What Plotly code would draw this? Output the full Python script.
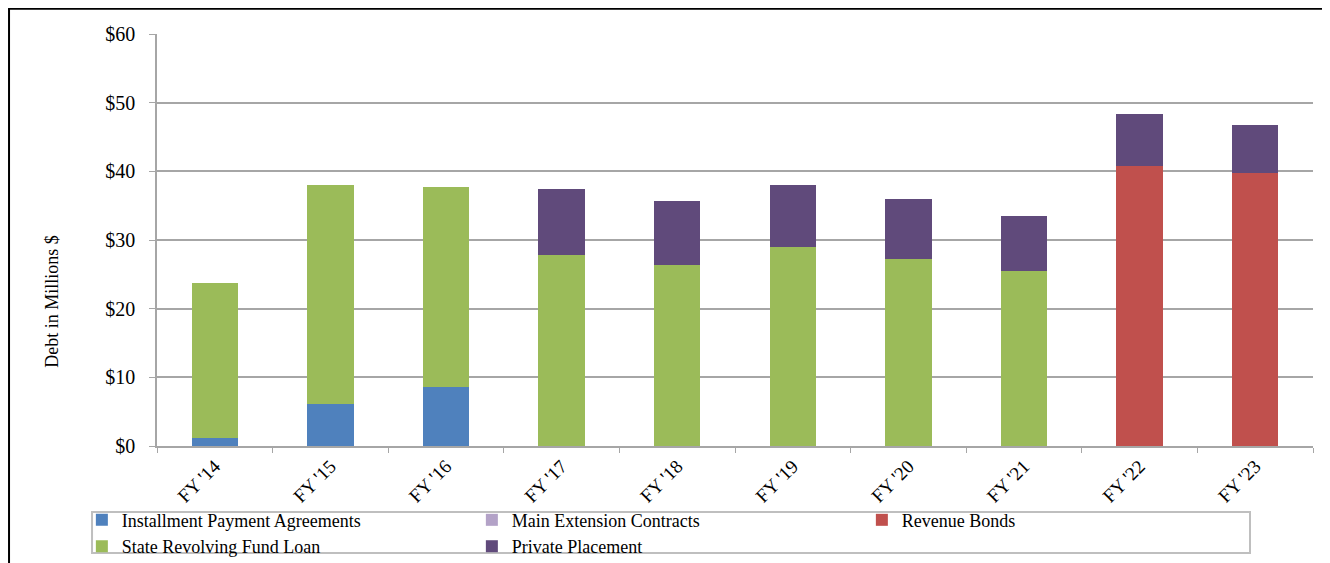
import plotly.graph_objects as go

# Data (millions of $)
years = ["FY '14", "FY '15", "FY '16", "FY '17", "FY '18",
         "FY '19", "FY '20", "FY '21", "FY '22", "FY '23"]
installment = [1.2, 6.1, 8.6, 0, 0, 0, 0, 0, 0, 0]
state_revolving = [22.5, 31.9, 29.1, 27.8, 26.4, 29.0, 27.3, 25.5, 0, 0]
main_extension = [0, 0, 0, 0, 0, 0, 0, 0, 0, 0]
revenue_bonds = [0, 0, 0, 0, 0, 0, 0, 0, 40.8, 39.7]
private_placement = [0, 0, 0, 9.6, 9.3, 9.0, 8.6, 8.0, 7.6, 7.1]

# Excel-2007 style palette
COLOR_IPA = "#4F81BD"
COLOR_SRF = "#9BBB59"
COLOR_MEC = "#B3A2C7"
COLOR_REV = "#C0504D"
COLOR_PP = "#604A7B"
COLOR_AXIS = "#A6A6A6"

SERIF = "Liberation Serif, Times New Roman, serif"

fig = go.Figure()

# stacking order (bottom to top) and legend rank
series = [
    ("Installment Payment Agreements", installment, COLOR_IPA, 1),
    ("Revenue Bonds", revenue_bonds, COLOR_REV, 3),
    ("State Revolving Fund Loan", state_revolving, COLOR_SRF, 4),
    ("Main Extension Contracts", main_extension, COLOR_MEC, 2),
    ("Private Placement", private_placement, COLOR_PP, 5),
]
for name, vals, color, rank in series:
    fig.add_trace(go.Bar(
        x=years,
        y=vals,
        name=name,
        marker=dict(color=color, line=dict(width=0)),
        legendrank=rank,
        hovertemplate='<b>%{x}</b><br>' + name + ': $%{y:.1f}M<extra></extra>'
    ))

# page body has an 8px margin, so the figure is sized to fit the window
fig.update_layout(
    barmode='stack',
    bargap=0.6,
    width=1322,
    height=555,
    margin=dict(l=149, r=17, t=26, b=117, autoexpand=False),
    paper_bgcolor="white",
    plot_bgcolor="white",
    font=dict(family=SERIF, color="black"),
    legend=dict(
        orientation="h",
        x=-0.065, xanchor="left",
        y=-0.135, yanchor="top",
        borderwidth=0,
        bgcolor="rgba(0,0,0,0)",
        entrywidth=345,
        font=dict(size=18, family=SERIF),
        traceorder="normal",
        itemwidth=30,
        tracegroupgap=0,
    ),
    shapes=[
        # outer frame
        dict(type="rect", xref="paper", yref="paper",
             x0=-0.128, x1=1.03, y0=-0.3, y1=1.061,
             line=dict(color="black", width=2), fillcolor="rgba(0,0,0,0)",
             layer="below"),
        # legend box
        dict(type="rect", xref="paper", yref="paper",
             x0=-0.0562, x1=0.9455, y0=-0.2597, y1=-0.1602,
             line=dict(color="#BFBFBF", width=2), fillcolor="rgba(0,0,0,0)",
             layer="below"),
    ],
    annotations=[dict(
        text="Debt in Millions $", textangle=-90,
        xref="paper", yref="paper", x=-0.0908, y=0.35,
        xanchor="center", yanchor="middle", showarrow=False,
        font=dict(size=18, family=SERIF),
    )],
)

fig.update_yaxes(
    range=[0, 60],
    dtick=10,
    tickprefix="$",
    tickfont=dict(size=20, family=SERIF),
    showgrid=True,
    gridcolor=COLOR_AXIS,
    gridwidth=1.5,
    showline=True,
    linecolor=COLOR_AXIS,
    linewidth=1.5,
    ticks="outside",
    ticklen=6,
    tickcolor=COLOR_AXIS,
    ticklabelstandoff=10,
    zeroline=False,
    automargin=False,
)
fig.update_xaxes(
    tickangle=-45,
    tickfont=dict(size=19, family=SERIF),
    showline=True,
    linecolor=COLOR_AXIS,
    linewidth=1.5,
    ticks="outside",
    ticklen=5,
    tickcolor=COLOR_AXIS,
    tickson="boundaries",
    automargin=False,
)

fig.write_html("out.html")
